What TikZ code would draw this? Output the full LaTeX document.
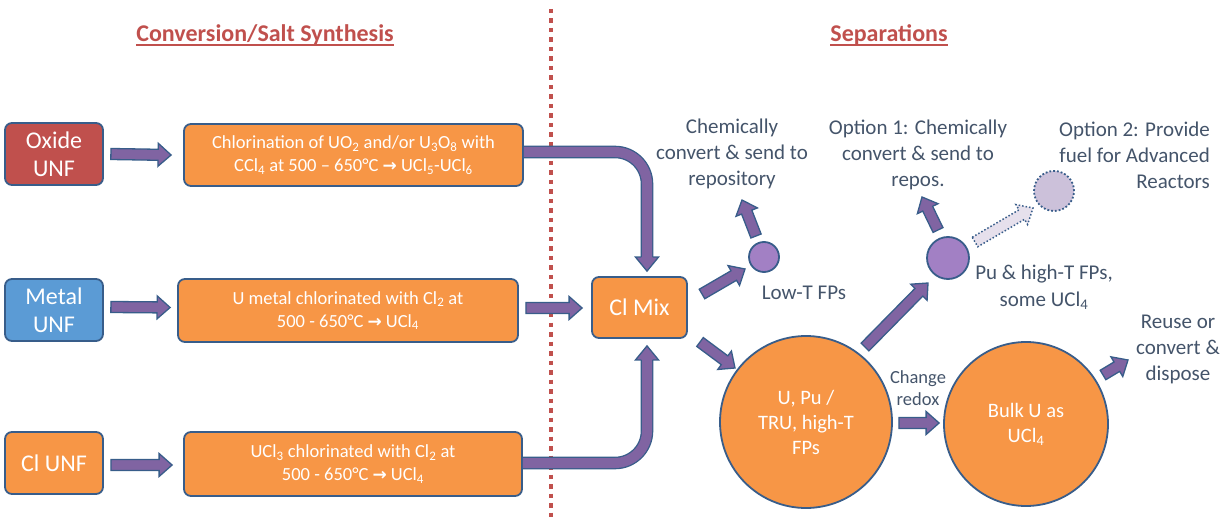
\documentclass[tikz,border=0pt]{standalone}
\usepackage{fontspec}
\setmainfont{Carlito}
\newfontfamily\symfont{DejaVu Sans}
\usetikzlibrary{calc}

\definecolor{edge}{HTML}{385D8A}
\definecolor{oxred}{HTML}{C0504D}
\definecolor{metblue}{HTML}{5B9BD5}
\definecolor{orng}{HTML}{F79646}
\definecolor{arrowfill}{HTML}{8064A2}
\definecolor{dotfill}{HTML}{A280C4}
\definecolor{optfill}{HTML}{CCC1DA}
\definecolor{optarrow}{HTML}{E6E0EC}
\definecolor{labeltext}{HTML}{44546A}

\newcommand\sub[1]{\textsubscript{#1}}
\newcommand\rarr{{\symfont\bfseries\fontsize{17}{17}\selectfont →}}

% straight block arrow: [style] tail, tip
\newcommand\blockarrow[3][]{%
  \path (#2) coordinate (ba-s) (#3) coordinate (ba-t);
  \path ($(ba-t)!13pt!(ba-s)$) coordinate (ba-n);
  \draw[blockarrow,#1]
    ($(ba-s)!5.5pt!90:(ba-t)$) -- ($(ba-n)!5.5pt!90:(ba-t)$) --
    ($(ba-n)!11.5pt!90:(ba-t)$) -- (ba-t) --
    ($(ba-n)!11.5pt!-90:(ba-t)$) -- ($(ba-n)!5.5pt!-90:(ba-t)$) --
    ($(ba-s)!5.5pt!-90:(ba-t)$) -- cycle;
}
% head for a bent pipe: neck, tip
\newcommand\pipehead[2]{%
  \fill[arrowfill] ($(#1)!11.5pt!90:(#2)$) -- (#2) -- ($(#1)!11.5pt!-90:(#2)$) -- cycle;
  \draw[edge, line width=1.3pt, line join=miter]
    ($(#1)!5.65pt!90:(#2)$) -- ($(#1)!11.5pt!90:(#2)$) -- (#2) --
    ($(#1)!11.5pt!-90:(#2)$) -- ($(#1)!5.65pt!-90:(#2)$);
}

\tikzset{
  srcbox/.style={rounded corners=7pt, draw=edge, line width=1.8pt,
    minimum width=98pt, minimum height=62pt, text=white, align=center,
    inner sep=0pt, font=\fontsize{24}{28}\selectfont},
  stepbox/.style={rounded corners=7pt, draw=edge, line width=1.8pt, fill=orng,
    minimum height=62pt, text=white, align=center, inner sep=0pt,
    font=\fontsize{18.5}{23}\selectfont},
  bigcirc/.style={circle, draw=edge, line width=1.8pt, fill=orng, text=white,
    align=center, inner sep=0pt, font=\fontsize{20.5}{25}\selectfont},
  dotcirc/.style={circle, draw=edge, line width=1.8pt, fill=dotfill, inner sep=0pt},
  label/.style={text=labeltext, align=center, inner sep=0pt,
    font=\fontsize{21}{26}\selectfont},
  heading/.style={text=oxred, inner sep=0pt, font=\bfseries\fontsize{24}{28}\selectfont},
  blockarrow/.style={draw=edge, fill=arrowfill, line width=1.3pt, line join=miter},
  optarrowstyle/.style={draw=edge, fill=optarrow, line width=1.5pt, dotted},
  pipe/.style={draw=edge, line width=1.3pt, double=arrowfill, double distance=10pt},
}

\begin{document}
\begin{tikzpicture}[x=1pt, y=-1pt]
\useasboundingbox (0,0) rectangle (1225,518);

% section divider and headings
\draw[oxred, line width=4.5pt, dash pattern=on 4.5pt off 5pt] (551,9) -- (551,518);
\node[heading] (h1) at (265,35) {Conversion/Salt Synthesis};
\node[heading] (h2) at (889,35) {Separations};
\draw[oxred, line width=1.4pt] ([yshift=-3.5pt]h1.base west) -- ([yshift=-3.5pt]h1.base east);
\draw[oxred, line width=1.4pt] ([yshift=-3.5pt]h2.base west) -- ([yshift=-3.5pt]h2.base east);

% feed types
\node[srcbox, fill=oxred] (oxide) at (54,154) {Oxide\\UNF};
\node[srcbox, fill=metblue] (metal) at (54,310) {Metal\\UNF};
\node[srcbox, fill=orng] (clunf) at (54,463) {Cl UNF};

% chlorination steps
\node[stepbox, minimum width=339pt] (chl) at (353.5,155)
  {Chlorination of UO\sub{2} and/or U\sub{3}O\sub{8} with\\CCl\sub{4} at 500 – 650°C \rarr{} UCl\sub{5}-UCl\sub{6}};
\node[stepbox, minimum width=340pt, minimum height=63pt] (umet) at (348,310.5)
  {U metal chlorinated with Cl\sub{2} at\\500 - 650°C \rarr{} UCl\sub{4}};
\node[stepbox, minimum width=338pt, minimum height=64pt] (ucl3) at (353,464)
  {UCl\sub{3} chlorinated with Cl\sub{2} at\\500 - 650°C \rarr{} UCl\sub{4}};

\node[srcbox, fill=orng, minimum width=95pt, minimum height=61pt] (mix) at (639.5,307.5) {Cl Mix};

% separation products
\node[bigcirc, minimum size=172pt] (c1) at (806,422) {U, Pu /\\TRU, high-T\\FPs};
\node[bigcirc, minimum size=164pt] (c2) at (1026,424) {Bulk U as\\UCl\sub{4}};
\node[dotcirc, minimum size=30pt] (lowt) at (764,257) {};
\node[dotcirc, minimum size=42pt] (pu) at (948,258) {};
\node[circle, draw=edge, line width=1.8pt, dotted, fill=optfill, minimum size=40pt, inner sep=0pt] (opt2) at (1054,191) {};

% labels
\node[label] (lrep) at (732,154) {Chemically\\convert \& send to\\repository};
\node[label] (lopt1) at (918,155) {Option 1: Chemically\\convert \& send to\\repos.};
\node[label, align=right, anchor=east] (lopt2) at (1210,155) {Option 2: Provide\\fuel for Advanced\\Reactors};
\node[label] (llow) at (804,293) {Low-T FPs};
\node[label, font=\fontsize{21}{27}\selectfont] (lpu) at (1044,287) {Pu \& high-T FPs,\\some UCl\sub{4}};
\node[label] (lreuse) at (1178,349) {Reuse or\\convert \&\\dispose};
\node[label, font=\fontsize{18.5}{22}\selectfont] (lredox) at (918,388) {Change\\redox};

% feed arrows
\blockarrow{$(oxide.east)+(7,0)$}{$(chl.west)+(-12,0)$}
\blockarrow{$(metal.east)+(7,-3)$}{$(umet.west)+(-7,-3)$}
\blockarrow{$(clunf.east)+(7,2)$}{$(ucl3.west)+(-11,1)$}
\blockarrow{$(umet.east)+(7,-2.5)$}{$(mix.west)+(-9,0.5)$}

% bent pipes into the mixer
\coordinate (topneck) at ($(mix.north)+(7.5,-19)$);
\coordinate (toptip) at ($(mix.north)+(7.5,-5)$);
\coordinate (botneck) at ($(mix.south)+(7.5,21)$);
\coordinate (bottip) at ($(mix.south)+(7.5,7)$);
\draw[pipe, rounded corners=32pt] ([yshift=3pt]chl.east) -| (topneck);
\pipehead{topneck}{toptip}
\draw[pipe, rounded corners=32pt] ([yshift=1pt]ucl3.east) -| (botneck);
\pipehead{botneck}{bottip}

% separation arrows
\blockarrow{$(mix)+(62.5,-13.5)$}{$(lowt)+(-19,12)$}
\blockarrow{$(lowt)+(-8,-21)$}{$(lowt)+(-22,-57)$}
\blockarrow{$(mix)+(60.5,34.5)$}{$(c1)+(-71,-54)$}
\blockarrow{$(c1)+(59,-75)$}{$(pu)+(-20,25)$}
\blockarrow{$(pu)+(-10,-28)$}{$(pu)+(-26,-61)$}
\blockarrow[optarrowstyle]{$(pu)+(27,-16)$}{$(opt2)+(-21,17)$}
\blockarrow{$(c1.east)+(6,1)$}{$(c2.west)+(-4,-1)$}
\blockarrow{$(c2)+(77,-49)$}{$(c2)+(102,-64)$}
\end{tikzpicture}
\end{document}
